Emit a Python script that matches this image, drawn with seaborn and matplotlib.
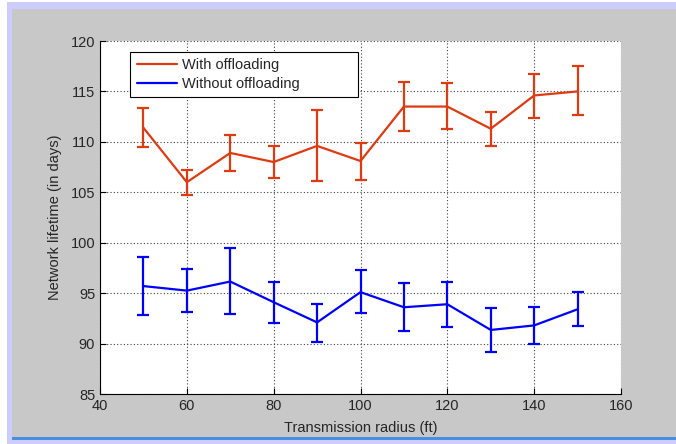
import matplotlib
matplotlib.use("Agg")
import matplotlib.pyplot as plt
import seaborn as sns
import pandas as pd
import numpy as np
from matplotlib.patches import Rectangle
from matplotlib.lines import Line2D

# ---- data ----
radius = [50, 60, 70, 80, 90, 100, 110, 120, 130, 140, 150]
with_mean = [111.4, 106.0, 108.9, 108.0, 109.6, 108.1, 113.5, 113.5, 111.3, 114.6, 115.0]
with_low = [109.5, 104.7, 107.1, 106.4, 106.1, 106.2, 111.1, 111.3, 109.6, 112.4, 112.7]
with_high = [113.4, 107.2, 110.7, 109.6, 113.2, 109.9, 115.9, 115.8, 113.0, 116.7, 117.5]
without_mean = [95.7, 95.25, 96.15, 94.1, 92.1, 95.1, 93.6, 93.9, 91.35, 91.8, 93.4]
without_low = [92.8, 93.1, 92.9, 92.0, 90.2, 93.0, 91.2, 91.65, 89.2, 90.0, 91.7]
without_high = [98.6, 97.4, 99.5, 96.1, 93.9, 97.3, 96.05, 96.15, 93.5, 93.6, 95.15]
series_names = ["With offloading", "Without offloading"]
xticks = [40, 60, 80, 100, 120, 140, 160]
yticks = [85, 90, 95, 100, 105, 110, 115, 120]

RED = "#e03a12"
BLUE = "#0000ff"

sns.set_style("white")
plt.rcParams["font.family"] = ["Liberation Sans", "DejaVu Sans"]

W, H = 676, 444
fig = plt.figure(figsize=(W / 100, H / 100), dpi=100)
fig.patch.set_facecolor("white")

def rect(x0, y0, x1, y1, color, z):
    fig.patches.append(Rectangle((x0 / W, 1 - y1 / H), (x1 - x0) / W, (y1 - y0) / H,
                                 transform=fig.transFigure, facecolor=color,
                                 edgecolor="none", zorder=z))

rect(7, 2, 676, 444, "#ccccff", -3)
rect(12, 9, 676, 437, "#c8c8c8", -2)
rect(12, 437, 676, 440, "#4a8ee0", -2)

AX_L, AX_T, AX_W, AX_H = 100, 41, 521, 353
ax = fig.add_axes([AX_L / W, 1 - (AX_T + AX_H) / H, AX_W / W, AX_H / H])
ax.set_zorder(1)
ax.set_facecolor("white")

df = pd.DataFrame({
    "radius": radius * 2,
    "lifetime": with_mean + without_mean,
    "series": [series_names[0]] * len(radius) + [series_names[1]] * len(radius),
})
sns.lineplot(data=df, x="radius", y="lifetime", hue="series",
             palette=[RED, BLUE], linewidth=1.6, ax=ax, legend=False, zorder=3)

for mean, lo, hi, c in [(with_mean, with_low, with_high, RED),
                        (without_mean, without_low, without_high, BLUE)]:
    m = np.array(mean)
    yerr = [m - np.array(lo), np.array(hi) - m]
    ax.errorbar(radius, m, yerr=yerr, fmt="none", ecolor=c, elinewidth=1.6,
                capsize=4, capthick=1.6, zorder=3)

ax.set_xlim(40, 160)
ax.set_ylim(85, 120)
ax.set_xticks(xticks)
ax.set_yticks(yticks)
ax.tick_params(direction="in", length=4, labelsize=10.5, color="black",
               top=False, right=False, bottom=True, left=True)
ax.grid(True, color="#404040", linestyle=(0, (1, 2)), linewidth=0.8)
ax.set_axisbelow(True)
for s in ax.spines.values():
    s.set_color("black")
    s.set_linewidth(0.8)
ax.spines["top"].set_visible(False)
ax.spines["right"].set_visible(False)

ax.set_xlabel("Transmission radius (ft)", fontsize=10.5, labelpad=6)
ax.set_ylabel("Network lifetime (in days)", fontsize=10.5, labelpad=6)

# legend box (MATLAB style, wider than its contents)
def ax_x(px):
    return (px - AX_L) / AX_W

def ax_y(py):
    return 1 - (py - AX_T) / AX_H

ax.add_patch(Rectangle((ax_x(130), ax_y(97)), ax_x(358) - ax_x(130), ax_y(52) - ax_y(97),
                       transform=ax.transAxes, facecolor="white", edgecolor="black",
                       linewidth=0.8, zorder=5))
handles = [Line2D([], [], color=RED, lw=1.6), Line2D([], [], color=BLUE, lw=1.6)]
leg = ax.legend(handles, series_names, loc="upper left",
                bbox_to_anchor=(ax_x(137), ax_y(58)), fontsize=10.5,
                frameon=False, borderaxespad=0, borderpad=0,
                handlelength=2.75, handletextpad=0.35, labelspacing=0.35)
leg.set_zorder(6)

fig.savefig("out.png", dpi=100, facecolor=fig.get_facecolor())
